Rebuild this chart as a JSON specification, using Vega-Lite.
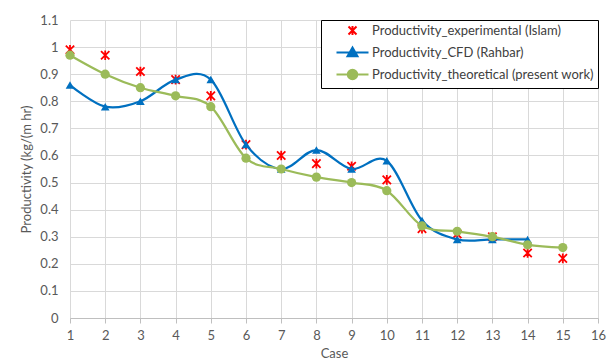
{
  "$schema": "https://vega.github.io/schema/vega-lite/v6.json",
  "width": 528,
  "height": 298,
  "autosize": "none",
  "padding": {"left": 70, "top": 20, "right": 14, "bottom": 46},
  "background": "white",
  "config": {
    "font": "Lato, sans-serif",
    "view": {"stroke": null}
  },
  "data": {
    "values": [
      {"case": 1, "series": "exp", "value": 0.99},
      {"case": 2, "series": "exp", "value": 0.97},
      {"case": 3, "series": "exp", "value": 0.91},
      {"case": 4, "series": "exp", "value": 0.88},
      {"case": 5, "series": "exp", "value": 0.82},
      {"case": 6, "series": "exp", "value": 0.64},
      {"case": 7, "series": "exp", "value": 0.60},
      {"case": 8, "series": "exp", "value": 0.57},
      {"case": 9, "series": "exp", "value": 0.56},
      {"case": 10, "series": "exp", "value": 0.51},
      {"case": 11, "series": "exp", "value": 0.33},
      {"case": 12, "series": "exp", "value": 0.31},
      {"case": 13, "series": "exp", "value": 0.30},
      {"case": 14, "series": "exp", "value": 0.24},
      {"case": 15, "series": "exp", "value": 0.22},
      {"case": 1, "series": "cfd", "value": 0.86},
      {"case": 2, "series": "cfd", "value": 0.78},
      {"case": 3, "series": "cfd", "value": 0.80},
      {"case": 4, "series": "cfd", "value": 0.88},
      {"case": 5, "series": "cfd", "value": 0.88},
      {"case": 6, "series": "cfd", "value": 0.64},
      {"case": 7, "series": "cfd", "value": 0.55},
      {"case": 8, "series": "cfd", "value": 0.62},
      {"case": 9, "series": "cfd", "value": 0.55},
      {"case": 10, "series": "cfd", "value": 0.58},
      {"case": 11, "series": "cfd", "value": 0.36},
      {"case": 12, "series": "cfd", "value": 0.29},
      {"case": 13, "series": "cfd", "value": 0.29},
      {"case": 14, "series": "cfd", "value": 0.29},
      {"case": 1, "series": "theo", "value": 0.97},
      {"case": 2, "series": "theo", "value": 0.90},
      {"case": 3, "series": "theo", "value": 0.85},
      {"case": 4, "series": "theo", "value": 0.82},
      {"case": 5, "series": "theo", "value": 0.78},
      {"case": 6, "series": "theo", "value": 0.59},
      {"case": 7, "series": "theo", "value": 0.55},
      {"case": 8, "series": "theo", "value": 0.52},
      {"case": 9, "series": "theo", "value": 0.50},
      {"case": 10, "series": "theo", "value": 0.47},
      {"case": 11, "series": "theo", "value": 0.34},
      {"case": 12, "series": "theo", "value": 0.32},
      {"case": 13, "series": "theo", "value": 0.30},
      {"case": 14, "series": "theo", "value": 0.27},
      {"case": 15, "series": "theo", "value": 0.26}
    ]
  },
  "encoding": {
    "x": {
      "field": "case",
      "type": "quantitative",
      "scale": {"domain": [1, 16], "nice": false, "zero": false},
      "axis": {
        "title": "Case",
        "values": [1,2,3,4,5,6,7,8,9,10,11,12,13,14,15,16],
        "format": "d",
        "grid": true,
        "gridColor": "#d9d9d9",
        "gridWidth": 1,
        "domainColor": "#bfbfbf",
        "ticks": true,
        "tickColor": "#bfbfbf",
        "tickSize": 5,
        "labelPadding": 6,
        "labelFontSize": 13,
        "labelColor": "#595959",
        "labelFlush": false,
        "titleFontSize": 13,
        "titleFontWeight": "normal",
        "titleColor": "#595959",
        "titlePadding": 5
      }
    },
    "y": {
      "field": "value",
      "type": "quantitative",
      "scale": {"domain": [0, 1.1], "nice": false},
      "axis": {
        "title": "Productivity (kg/(m hr)",
        "values": [0,0.1,0.2,0.3,0.4,0.5,0.6,0.7,0.8,0.9,1,1.1],
        "format": ".1~f",
        "grid": true,
        "gridColor": "#d9d9d9",
        "domain": false,
        "ticks": false,
        "labelPadding": 12,
        "labelFontSize": 13,
        "labelColor": "#595959",
        "titleFontSize": 13,
        "titleFontWeight": "normal",
        "titleColor": "#595959",
        "titlePadding": 6
      }
    },
    "color": {
      "field": "series",
      "type": "nominal",
      "scale": {"domain": ["exp", "cfd", "theo"], "range": ["#ff0000", "#0070c0", "#9bbb59"]},
      "legend": {
        "title": null,
        "orient": "top-right",
        "offset": 0,
        "fillColor": "white",
        "strokeColor": "black",
        "padding": 4,
        "symbolSize": 100,
        "symbolOffset": 21,
        "labelOffset": 13,
        "rowPadding": 4,
        "labelFontSize": 13,
        "labelLimit": 400,
        "labelColor": "#404040",
        "labelExpr": "datum.value === 'exp' ? 'Productivity_experimental (Islam)' : datum.value === 'cfd' ? 'Productivity_CFD (Rahbar)' : 'Productivity_theoretical (present work)'",
        "encode": {
          "symbols": {
            "update": {
              "shape": {"signal": "datum.value === 'exp' ? 'M-0.8,-0.8L0.8,0.8M0.8,-0.8L-0.8,0.8M0,-0.9L0,0.9' : datum.value === 'cfd' ? 'M-3.2,0H3.2M0,-1L1,0.75L-1,0.75Z' : 'M-3.2,0H3.2M0.95,0A0.95,0.95 0 1,1 -0.95,0A0.95,0.95 0 1,1 0.95,0Z'"},
              "fill": {"signal": "datum.value === 'exp' ? 'transparent' : scale('color', datum.value)"},
              "stroke": {"signal": "scale('color', datum.value)"},
              "strokeWidth": {"value": 2},
              "opacity": {"value": 1},
              "fillOpacity": {"value": 1}
            }
          }
        }
      }
    }
  },
  "layer": [
    {
      "transform": [{"filter": "datum.series === 'exp'"}],
      "mark": {"type": "point", "shape": "M-1,-1L1,1M1,-1L-1,1M0,-1.15L0,1.15", "filled": false, "strokeWidth": 1.8, "size": 70, "opacity": 1}
    },
    {
      "transform": [{"filter": "datum.series === 'cfd'"}],
      "mark": {"type": "line", "interpolate": "cardinal", "strokeWidth": 2.25}
    },
    {
      "transform": [{"filter": "datum.series === 'cfd'"}],
      "mark": {"type": "point", "shape": "triangle-up", "filled": true, "size": 75, "opacity": 1}
    },
    {
      "transform": [{"filter": "datum.series === 'theo'"}],
      "mark": {"type": "line", "interpolate": "cardinal", "strokeWidth": 2.25}
    },
    {
      "transform": [{"filter": "datum.series === 'theo'"}],
      "mark": {"type": "point", "shape": "circle", "filled": true, "size": 85, "opacity": 1}
    }
  ]
}
